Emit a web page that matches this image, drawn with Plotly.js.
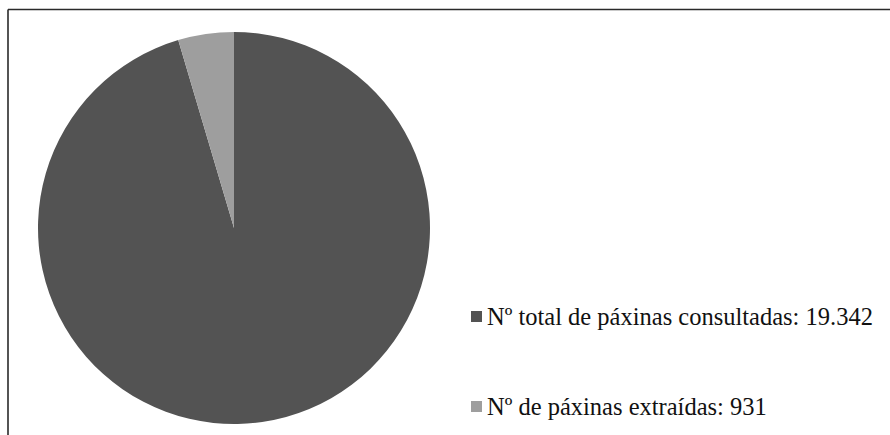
<!DOCTYPE html>
<html>
<head>
<meta charset="utf-8">
<script src="https://cdn.plot.ly/plotly-3.0.1.min.js"></script>
<style>
  html, body { margin: 0; padding: 0; background: #ffffff; }
  #chart { width: 890px; height: 435px; }
</style>
</head>
<body>
<div id="chart"></div>
<script>
// Data
const categories = ["Nº total de páxinas consultadas", "Nº de páxinas extraídas"];
const values = [19342, 931];
const valueLabels = ["19.342", "931"];
const colors = ["#535353", "#9e9e9e"];

const W = 890, H = 435;
const px = x => x / W;
const py = y => 1 - y / H;

const trace = {
  type: "pie",
  labels: categories,
  values: values,
  sort: false,
  direction: "clockwise",
  rotation: 0,
  textinfo: "none",
  hoverinfo: "label+value",
  marker: { colors: colors, line: { width: 0 } },
  domain: { x: [px(38), px(430)], y: [py(424), py(32)] },
  showlegend: false
};

// Legend drawn as text + swatches
const legendY = [316, 406];
const annotations = categories.map((c, i) => ({
  xref: "paper", yref: "paper",
  x: px(485), y: py(legendY[i]),
  xanchor: "left", yanchor: "middle",
  showarrow: false,
  text: c + ": " + valueLabels[i],
  font: { family: "Liberation Serif, Times New Roman, serif", size: 24.5, color: "#111111" }
}));

const shapes = categories.map((c, i) => ({
  type: "rect", xref: "paper", yref: "paper",
  x0: px(471), x1: px(482),
  y0: py(legendY[i] + 6), y1: py(legendY[i] - 5),
  fillcolor: colors[i], line: { width: 0 }
}));

// frame lines (top and left)
shapes.push({
  type: "line", xref: "paper", yref: "paper",
  x0: px(8), x1: 1.01, y0: py(9.5), y1: py(9.5),
  line: { color: "#2a2a2a", width: 1.6 }
});
shapes.push({
  type: "line", xref: "paper", yref: "paper",
  x0: px(8), x1: px(8), y0: py(9.5), y1: -0.01,
  line: { color: "#2a2a2a", width: 1.6 }
});

const layout = {
  width: W, height: H,
  margin: { l: 0, r: 0, t: 0, b: 0 },
  paper_bgcolor: "#ffffff",
  plot_bgcolor: "#ffffff",
  showlegend: false,
  annotations: annotations,
  shapes: shapes
};

Plotly.newPlot("chart", [trace], layout, { displayModeBar: false, staticPlot: true });
</script>
</body>
</html>
